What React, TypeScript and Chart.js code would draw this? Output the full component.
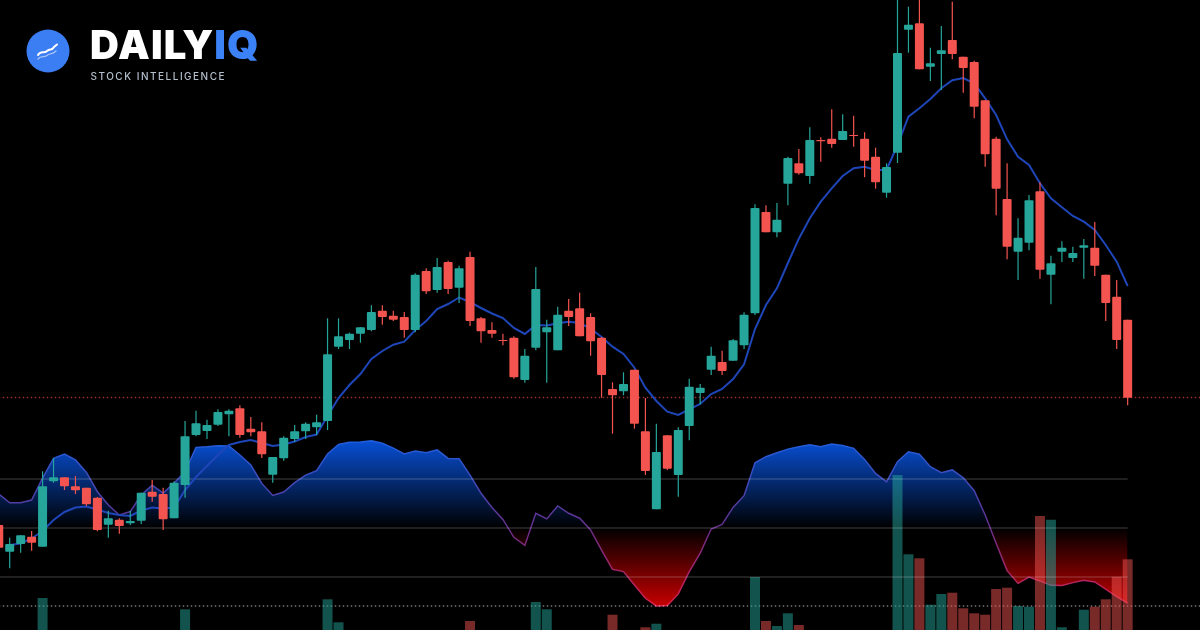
// App.tsx
import { useEffect, useRef } from 'react';
import { Chart, registerables } from 'chart.js';

Chart.register(...registerables);

const opens = [105, 78.3, 86, 93.3, 83.3, 148.7, 152.7, 143.7, 142.3, 132.3, 105.3, 110.3, 106.7, 109.3, 138.3, 136, 111.7, 145, 195, 199, 205.3, 215.7, 221.7, 201.3, 198.7, 155.3, 171.7, 191, 198.7, 202.7, 209, 283.3, 290, 296.3, 300, 319.3, 314.3, 313, 300, 359, 340, 368, 342.3, 373, 311.7, 300, 290, 292.3, 250, 282.3, 297.7, 279.7, 319.3, 321.7, 313, 292.3, 241, 238.7, 260.3, 198.7, 120.7, 194.7, 155, 204, 237, 260.3, 268, 269.3, 284.7, 316.7, 418, 397.7, 446.3, 466.7, 454, 490, 491.3, 490, 495, 491.3, 473.3, 437.3, 477.3, 600.3, 606.7, 563.3, 576, 590, 573.3, 568, 529.7, 491.3, 431, 378.3, 387.3, 438.7, 355.3, 378.3, 372, 382.3, 382.3, 355.3, 333.3, 310.3];
const closes = [82.3, 86, 94.7, 87.3, 143.7, 152.7, 143.7, 139.7, 125.7, 100, 111.7, 104, 109, 137.3, 133.3, 110.7, 147.3, 193.7, 206.7, 205, 218, 219.3, 195, 197.7, 175.7, 173, 192.3, 198.7, 206.3, 207.7, 275.7, 293.7, 296.3, 302.7, 318, 313, 310.3, 300, 355.3, 338.7, 363, 341, 361.7, 309, 298.7, 296.3, 289, 252.7, 274.3, 341, 302.7, 315.3, 313, 293.7, 288.7, 255, 234.7, 246, 206.3, 159, 178, 161.3, 200, 243.3, 242.3, 274.3, 259, 289.7, 315.3, 422, 397.7, 410.3, 472, 456.7, 490, 488.7, 486, 499, 494, 469.3, 447.7, 463, 577, 605.3, 560.7, 566.7, 579.7, 576, 562, 523.3, 475.7, 441.3, 383.3, 392.3, 429.7, 360.3, 366.7, 382.3, 377, 384.7, 364.3, 327, 290, 232.3];
const highs = [105, 92.3, 94.7, 99, 158.7, 171.7, 152.7, 154, 142.3, 133, 119.3, 111.7, 119.3, 137.3, 150, 142.3, 148.7, 209, 219.3, 210.3, 220.7, 220.7, 224.7, 213, 207.7, 173, 193.7, 205, 207.7, 215.3, 311.7, 311.7, 297.3, 303, 324.7, 324.7, 319.3, 318, 356.7, 361.7, 372, 369.3, 364.3, 378.3, 313, 307.7, 296.3, 293.7, 281, 363, 310.3, 323.3, 331, 337.3, 316.7, 293, 247.7, 257.7, 260.3, 232, 206.3, 194.7, 202.7, 251.3, 246, 283.3, 279.3, 291, 317.7, 425.7, 424.7, 427, 473.3, 481, 502.7, 492.7, 520.7, 515.7, 514.3, 497.7, 482.3, 466.7, 635, 623.3, 635, 582.3, 604, 628.3, 573.3, 569.3, 529.7, 493.3, 466.7, 411.7, 435, 447.7, 374.3, 388.7, 383.3, 391, 408, 355.3, 350, 310.3];
const lows = [82, 61.7, 77.3, 79.3, 83.3, 147.3, 140, 136, 124, 98.7, 92.3, 96.3, 105, 106, 128.3, 100, 111.7, 132.3, 193.7, 191, 204, 193.7, 192.3, 193.7, 172, 147.3, 169.3, 188.3, 191, 195, 200, 281, 281, 287.3, 298.7, 305.3, 309, 292.3, 297.7, 336, 337.3, 336, 327, 304, 287.3, 292.3, 284.7, 251.3, 247.3, 279.7, 247.3, 279.7, 304, 293.7, 274.3, 232.3, 196.3, 234.7, 201.3, 155, 120.7, 160, 133.3, 189.7, 225.7, 255, 255, 269.3, 281, 315, 397.7, 392.7, 424.7, 455.3, 446.3, 468.3, 482.3, 490, 483.3, 452.7, 441.3, 432.3, 467, 577.3, 560.7, 549, 540, 570.7, 537.3, 511.7, 463.3, 414.7, 370.7, 350, 379.7, 351.3, 325.7, 368, 368, 351.3, 354, 309, 281, 224.7];
const ema = [null, 85, 86.5, 91.5, 99, 110, 118, 122.5, 123.5, 120.5, 117, 115, 114, 119.5, 122.5, 121.5, 122.5, 140, 153, 164, 175, 185, 188, 190, 187, 184, 185.5, 188.5, 193, 195.5, 214, 232, 245, 256, 271, 279, 285.3, 288.3, 300, 309, 321, 326, 332.5, 328, 322, 316.5, 312, 302, 296, 305, 304.5, 306.7, 308.3, 307, 301.5, 293, 283.3, 276, 262.3, 242.3, 229, 218.3, 215, 220.7, 226, 236, 241, 251, 265.7, 301, 325, 341.7, 367, 391.3, 411.7, 428.3, 441.7, 454, 461.7, 463.3, 460, 460, 485, 513.3, 521.7, 531, 541.7, 549.7, 552, 546.7, 531.7, 515, 490.7, 473.3, 465, 446.7, 431.7, 422.7, 414, 408.3, 400, 385, 368.3, 344];
const rsi = [63.9, 60.3, 60.3, 61.4, 70.4, 78.4, 80.2, 77.8, 72.7, 64.8, 59.4, 55.3, 56.7, 63.5, 67.5, 64.2, 68.4, 73, 82.9, 83.2, 83.6, 83.5, 79.8, 75.7, 68.2, 63.3, 64.7, 68.5, 71.6, 73.4, 80.2, 84.1, 85, 85.1, 85.6, 84.6, 82.6, 80.2, 81.4, 80.7, 81.9, 78.4, 78.3, 71.6, 64.2, 58.4, 53.5, 46.2, 42.9, 56, 53.7, 59, 56, 54, 49.2, 41, 33.1, 32.2, 26.7, 21.3, 18.2, 18.4, 23.1, 32.2, 39.7, 49.6, 51.5, 58.4, 63.2, 76.6, 79.1, 80.7, 82.2, 83.2, 84, 83.2, 84.3, 83.7, 82.5, 78, 72.3, 68.8, 77.1, 81.1, 80.1, 75, 72.6, 73.7, 70.5, 65.2, 55.3, 43.8, 32.6, 27.4, 30, 28.4, 26.6, 26.5, 27.7, 28.7, 28, 25, 22, 19.3];
const volumes = [0, 0, 0, 0, 32, 0, 0, 0, 0, 0, 0, 0, 0, 0, 0, 0, 0, 20.7, 0, 0, 0, 0, 0, 0, 0, 0, 0, 0, 0, 0, 30.7, 7.7, 0, 0, 0, 0, 0, 0, 0, 0, 0, 0, 0, 9, 0, 0, 0, 0, 0, 28, 20.7, 0, 0, 0, 0, 0, 15.3, 0, 0, 2.7, 6.3, 0, 0, 0, 0, 0, 0, 0, 0, 53, 9, 4, 16.7, 5, 0, 0, 0, 0, 0, 0, 0, 0, 155, 75.7, 71.7, 25.3, 36, 37.3, 21.7, 16.7, 15.3, 41, 42.3, 24, 23.3, 114, 110.3, 2.7, 0, 20.3, 23.3, 30.7, 53.3, 70.7];

const lastPrice = 232.5;
const avgVolume = 24;
const rsiLevels = [70, 50, 30];

const UP = '#26a69a';
const DOWN = '#f4544f';
const isUp = (i: number) => closes[i] >= opens[i];

export default function App() {
  const canvasRef = useRef<HTMLCanvasElement>(null);

  useEffect(() => {
    document.body.style.margin = '0';
    document.body.style.background = '#000';
    const last = opens.length - 1;

    const flatLine = (y: number, endX: number, color: string, yAxisID: string, dash: number[], order: number, width = 1) => ({
      type: 'line' as const,
      data: [{ x: 0, y }, { x: endX, y }],
      borderColor: color,
      borderWidth: width,
      borderDash: dash,
      pointRadius: 0,
      yAxisID,
      order,
    });

    const chart = new Chart(canvasRef.current as HTMLCanvasElement, {
      type: 'bar',
      data: {
        datasets: [
          {
            label: 'body',
            data: opens.map((o, i) => ({ x: i, y: [o, closes[i]] })),
            backgroundColor: opens.map((_, i) => (isUp(i) ? UP : DOWN)),
            barThickness: 9,
            borderRadius: 1,
            borderSkipped: false,
            yAxisID: 'price',
            order: 0,
          },
          {
            label: 'wick',
            data: highs.map((h, i) => ({ x: i, y: [lows[i], h] })),
            backgroundColor: opens.map((_, i) => (isUp(i) ? UP : DOWN)),
            barThickness: 1.2,
            yAxisID: 'price',
            order: 1,
          },
          {
            type: 'line',
            label: 'ema',
            data: ema.map((y, i) => ({ x: i, y })),
            borderColor: '#1f46b8',
            borderWidth: 2,
            pointRadius: 0,
            yAxisID: 'price',
            order: 2,
          },
          flatLine(lastPrice, 110, 'rgba(239,70,70,0.65)', 'price', [1.5, 2.5], 3, 1.5),
          ...rsiLevels.map((l) => flatLine(l, last, 'rgba(255,255,255,0.17)', 'rsi', [], 4, 1.5)),
          {
            label: 'volume',
            data: volumes.map((v, i) => ({ x: i, y: v })),
            backgroundColor: opens.map((_, i) => (isUp(i) ? 'rgba(38,166,154,0.5)' : 'rgba(239,83,80,0.5)')),
            barThickness: 10,
            yAxisID: 'volume',
            order: 5,
          },
          flatLine(avgVolume, 110, 'rgba(255,255,255,0.45)', 'volume', [1.5, 2.5], 6, 1.5),
          {
            type: 'line',
            label: 'rsi',
            data: rsi.map((y, i) => ({ x: i, y })),
            borderColor: '#7b2f8f',
            borderWidth: 1.5,
            pointRadius: 0,
            yAxisID: 'rsi',
            order: 7,
          },
        ] as any,
      },
      options: {
        animation: false,
        responsive: false,
        devicePixelRatio: 1,
        layout: { padding: 0, autoPadding: false },
        datasets: { bar: { grouped: false, inflateAmount: 0 } } as any,
        plugins: { legend: { display: false }, tooltip: { enabled: false } },
        scales: {
          x: { type: 'linear', display: false, offset: false, min: 0.115, max: 109.6 },
          price: { axis: 'y', type: 'linear', display: false, min: 0, max: 630 },
          volume: { axis: 'y', type: 'linear', display: false, min: 0, max: 630 },
          rsi: { axis: 'y', type: 'linear', display: false, min: 8.367, max: 265.51 },
        } as any,
      },
    });

    // gradients need the scale's pixels, so they go on after the first layout
    const ctx = chart.ctx;
    const r = chart.scales.rsi;
    const px = (v: number) => r.getPixelForValue(v);
    const blue = ctx.createLinearGradient(0, px(86), 0, px(50));
    blue.addColorStop(0, 'rgba(8,80,215,1)');
    blue.addColorStop(1, 'rgba(8,80,215,0)');
    const red = ctx.createLinearGradient(0, px(50), 0, px(18));
    red.addColorStop(0, 'rgba(200,0,0,0)');
    red.addColorStop(1, 'rgba(200,0,0,1)');
    const stroke = ctx.createLinearGradient(0, px(86), 0, px(18));
    stroke.addColorStop(0, '#1f5fe0');
    stroke.addColorStop(0.55, '#6a2c86');
    stroke.addColorStop(1, '#d8204f');
    const rsiSet: any = chart.data.datasets[chart.data.datasets.length - 1];
    rsiSet.borderColor = stroke;
    rsiSet.fill = { target: { value: 50 }, above: blue, below: red };
    chart.update('none');

    return () => chart.destroy();
  }, []);

  return (
    <div style={{ position: 'fixed', left: 0, top: 0, width: 1200, height: 630, background: '#000', overflow: 'hidden' }}>
      <canvas ref={canvasRef} width={1200} height={630} style={{ display: 'block' }} />
      <svg width={44} height={44} viewBox="0 0 44 44" style={{ position: 'absolute', left: 26, top: 29 }}>
        <circle cx={22} cy={22} r={21.5} fill="#3b7df2" />
        <path d="M12 26 C15 21 18 25 21 22 C24 19 26 22 28 18 L31 15.5" fill="none" stroke="#fff" strokeWidth={2} strokeLinecap="round" />
        <path d="M12 30 C15 26 18 29 21 26.5 C24 24 26 26 30 22" fill="none" stroke="rgba(255,255,255,0.55)" strokeWidth={1.3} strokeLinecap="round" />
      </svg>
      <div style={{ position: 'absolute', left: 90, top: 21, fontFamily: 'Inter, sans-serif', fontWeight: 900, fontSize: 40, lineHeight: '48px', letterSpacing: 1.1, color: '#fff', whiteSpace: 'nowrap' }}>
        DAILY<span style={{ color: '#3b82f6' }}>IQ</span>
      </div>
      <div style={{ position: 'absolute', left: 90.5, top: 69, fontFamily: 'Inter, sans-serif', fontWeight: 500, fontSize: 10, lineHeight: '14px', letterSpacing: 1.5, color: '#b4bfcc', whiteSpace: 'nowrap' }}>
        STOCK INTELLIGENCE
      </div>
    </div>
  );
}
